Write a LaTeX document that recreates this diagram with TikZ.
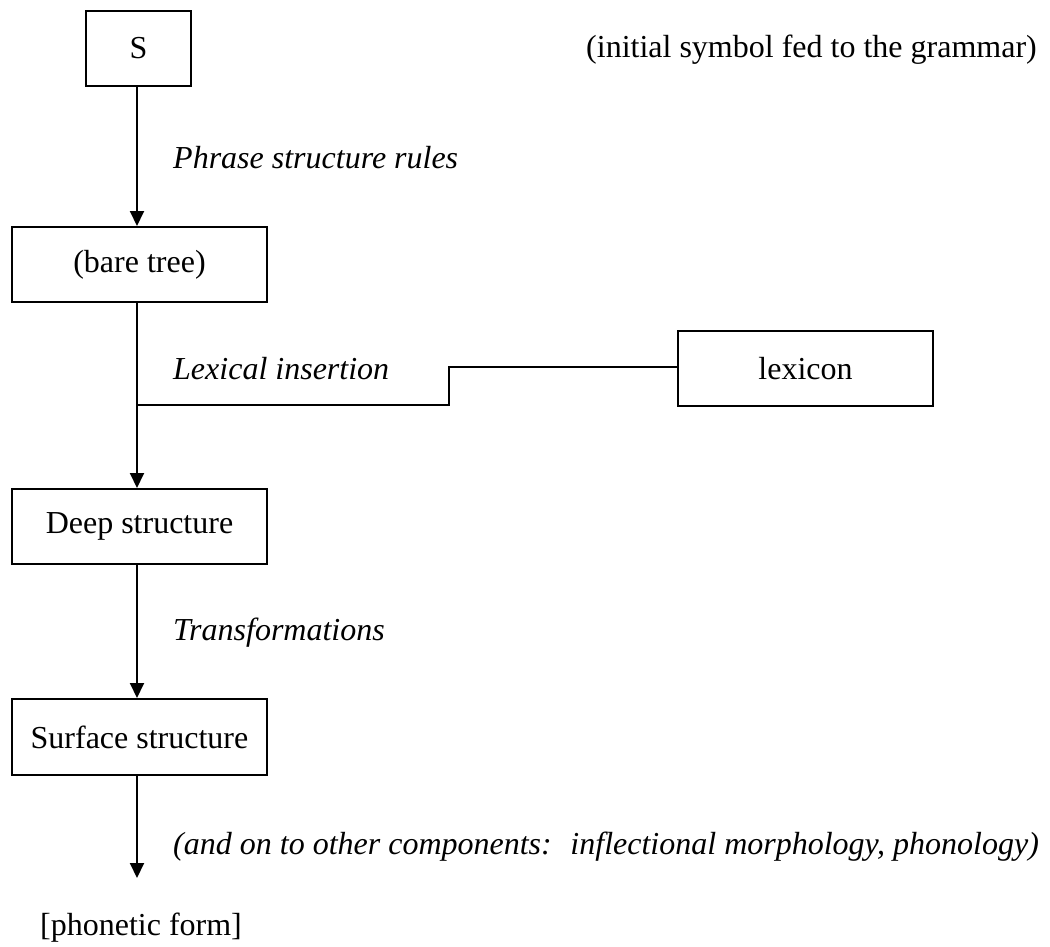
\documentclass[tikz,border=0pt]{standalone}
\usepackage{fontspec}
\setmainfont{Liberation Serif}
\usetikzlibrary{arrows.meta}
\begin{document}
\begin{tikzpicture}[x=1pt,y=-1pt,
  every node/.style={font=\fontsize{32}{38}\selectfont},
  box/.style={draw,line width=2pt,inner sep=0pt},
  lab/.style={anchor=west,inner sep=0pt,font=\fontsize{32}{38}\selectfont\itshape},
  conn/.style={line width=2pt},
  arr/.style={conn,-{Triangle[width=14pt,length=15pt]}}]
\useasboundingbox (0,0) rectangle (1050,947);
\node[box,minimum width=105pt,minimum height=75pt] (S) at (138.5,48.5) {S};
\node[box,minimum width=255pt,minimum height=75pt] (bare) at (139.5,264.5) {(bare tree)};
\node[box,minimum width=255pt,minimum height=75pt] (lex) at (805.5,368.5) {lexicon};
\node[box,minimum width=255pt,minimum height=75pt] (deep) at (139.5,526.5) {Deep structure};
\node[box,minimum width=255pt,minimum height=76pt] (surf) at (139.5,737) {Surface structure};
\node[inner sep=0pt] (phon) at (141,928) {[phonetic form]};
\node[anchor=west,inner sep=0pt] (init) at (586,50) {(initial symbol fed to the grammar)};
\node[lab] (psr) at (173,158) {Phrase structure rules};
\node[lab] (li) at (173,369) {Lexical insertion};
\node[lab] (tr) at (173,633) {Transformations};
\node[lab] (oth) at (173,847) {(and on to other components:\hspace{8pt} inflectional morphology, phonology)};
\coordinate (j) at (137,405);
\draw[arr] (S.south -| j) -- (bare.north -| j);
\draw[arr] (bare.south -| j) -- (deep.north -| j);
\draw[conn] (lex.west |- 0,367) -- (449,367) -- (449,405) -- (j);
\draw[arr] (deep.south -| j) -- (surf.north -| j);
\draw[arr] (surf.south -| j) -- (137,878);
\end{tikzpicture}
\end{document}
